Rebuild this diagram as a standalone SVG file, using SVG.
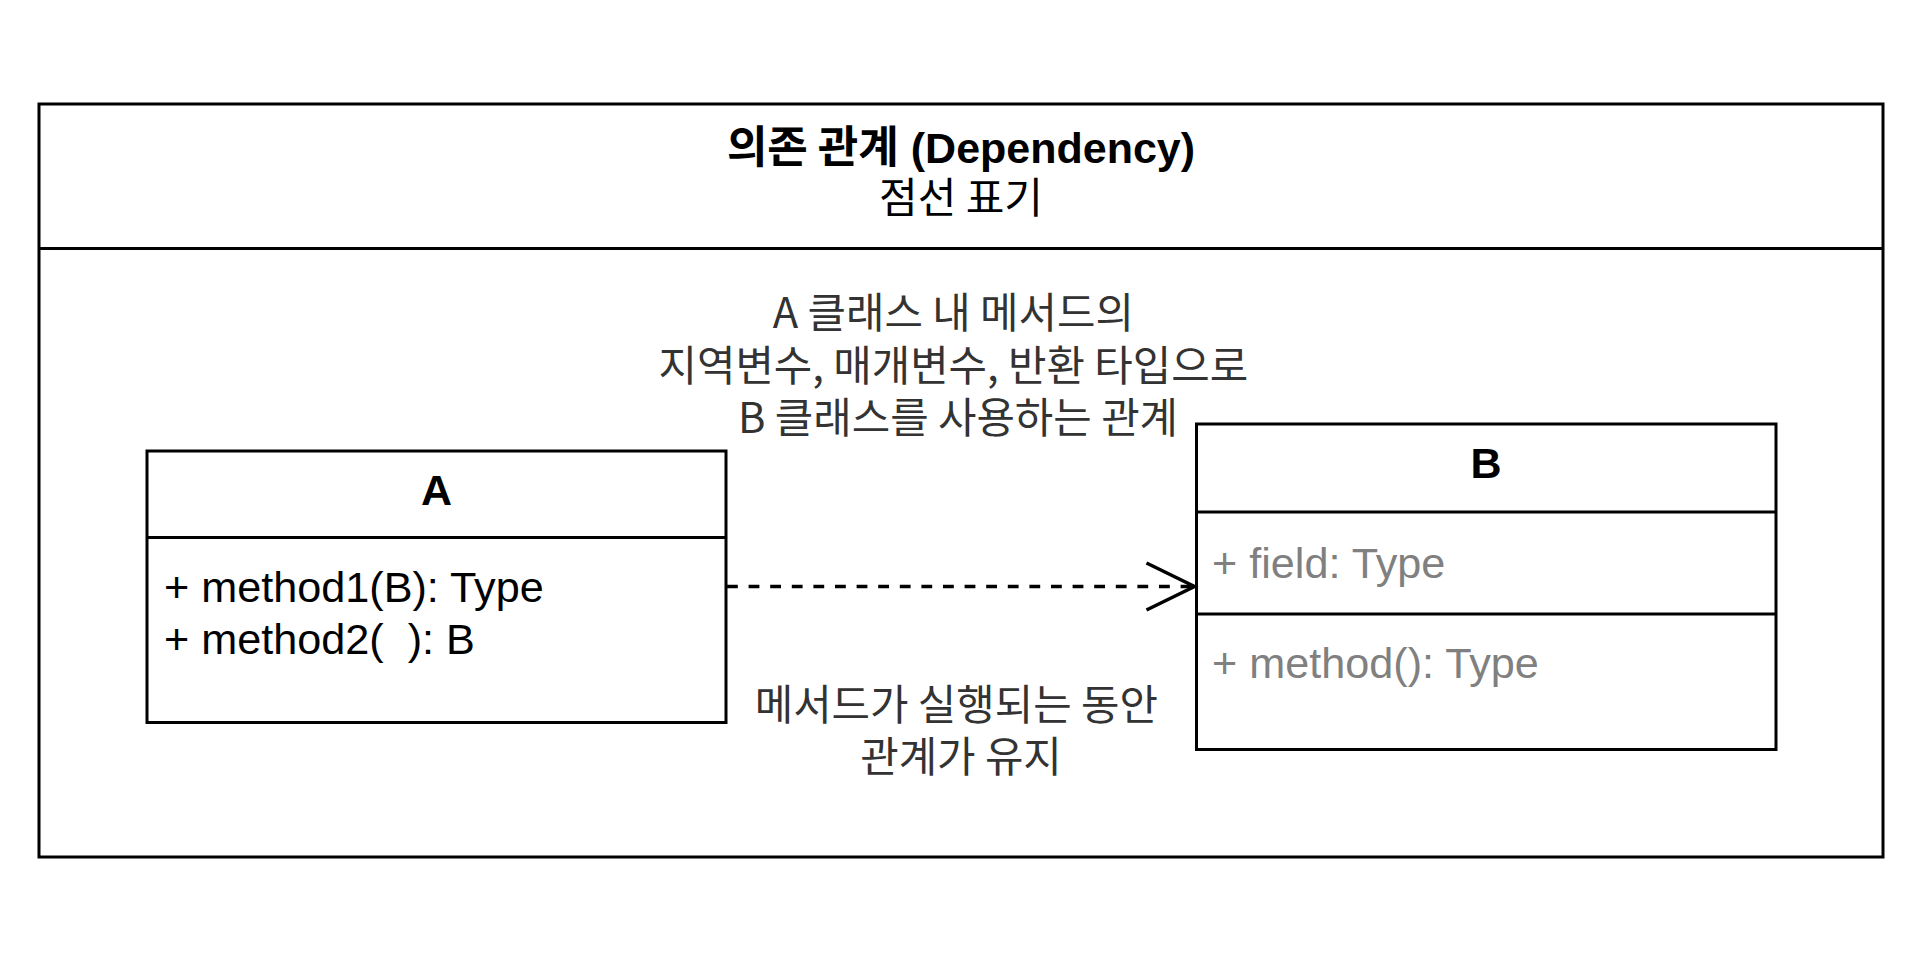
<svg xmlns="http://www.w3.org/2000/svg" width="1920" height="955" viewBox="0 0 1920 955">
<style>
  .box { fill: #ffffff; stroke: #000000; stroke-width: 3; }
  .div { stroke: #000000; stroke-width: 3; fill: none; }
  .lat { font-family: "Liberation Sans", Arial, "Noto Sans CJK KR", sans-serif; }
  .kr { font-family: "Noto Sans CJK KR", "Liberation Sans", sans-serif; }
  .title { font-size: 43px; font-weight: bold; fill: #000000; }
  .sub { font-size: 42px; fill: #000000; }
  .cls { font-size: 43px; font-weight: bold; fill: #000000; }
  .mem { font-size: 43.2px; fill: #000000; }
  .memg { font-size: 43.2px; fill: #808080; }
  .lbl { font-size: 41.8px; fill: #333333; }
  .conn { stroke: #000000; stroke-width: 3.5; fill: none; }
</style>
<rect width="1920" height="955" fill="#ffffff"/>

<g id="frame">
  <rect class="box" x="39" y="104" width="1844" height="753"/>
  <line class="div" x1="39" y1="248.5" x2="1883" y2="248.5"/>
  <text class="title lat" x="961" y="163" text-anchor="middle"><tspan class="kr" font-size="44">의존 관계</tspan> (Dependency)</text>
  <text class="sub kr" x="961" y="213" text-anchor="middle">점선 표기</text>
</g>

<g id="classA">
  <rect class="box" x="147" y="451" width="579" height="271.5"/>
  <line class="div" x1="147" y1="537.5" x2="726" y2="537.5"/>
  <text class="cls lat" x="436.5" y="505" text-anchor="middle">A</text>
  <text class="mem lat" x="164" y="601.5">+ method1(B): Type</text>
  <text class="mem lat" x="164" y="654" xml:space="preserve">+ method2(  ): B</text>
</g>

<g id="classB">
  <rect class="box" x="1196.5" y="424" width="579.5" height="325.5"/>
  <line class="div" x1="1196.5" y1="512" x2="1776" y2="512"/>
  <line class="div" x1="1196.5" y1="614" x2="1776" y2="614"/>
  <text class="cls lat" x="1486" y="478" text-anchor="middle">B</text>
  <text class="memg lat" x="1212" y="577.5">+ field: Type</text>
  <text class="memg lat" x="1212" y="677.5">+ method(): Type</text>
</g>

<g id="connectors">
  <line class="conn" x1="727" y1="586.5" x2="1193" y2="586.5" stroke-dasharray="10.8 10.8"/>
  <polyline class="conn" points="1146.5,563 1194.5,586.5 1146.5,610"/>
</g>

<g id="labels">
  <text class="lbl kr" x="958" text-anchor="middle">
    <tspan x="958" y="328">A 클래스 내 메서드의</tspan>
    <tspan x="958" y="380.5">지역변수, 매개변수, 반환 타입으로</tspan>
    <tspan x="958" y="433">B 클래스를 사용하는 관계</tspan>
  </text>
  <text class="lbl kr" x="961" text-anchor="middle">
    <tspan x="961" y="719.5">메서드가 실행되는 동안</tspan>
    <tspan x="961" y="772">관계가 유지</tspan>
  </text>
</g>
</svg>
